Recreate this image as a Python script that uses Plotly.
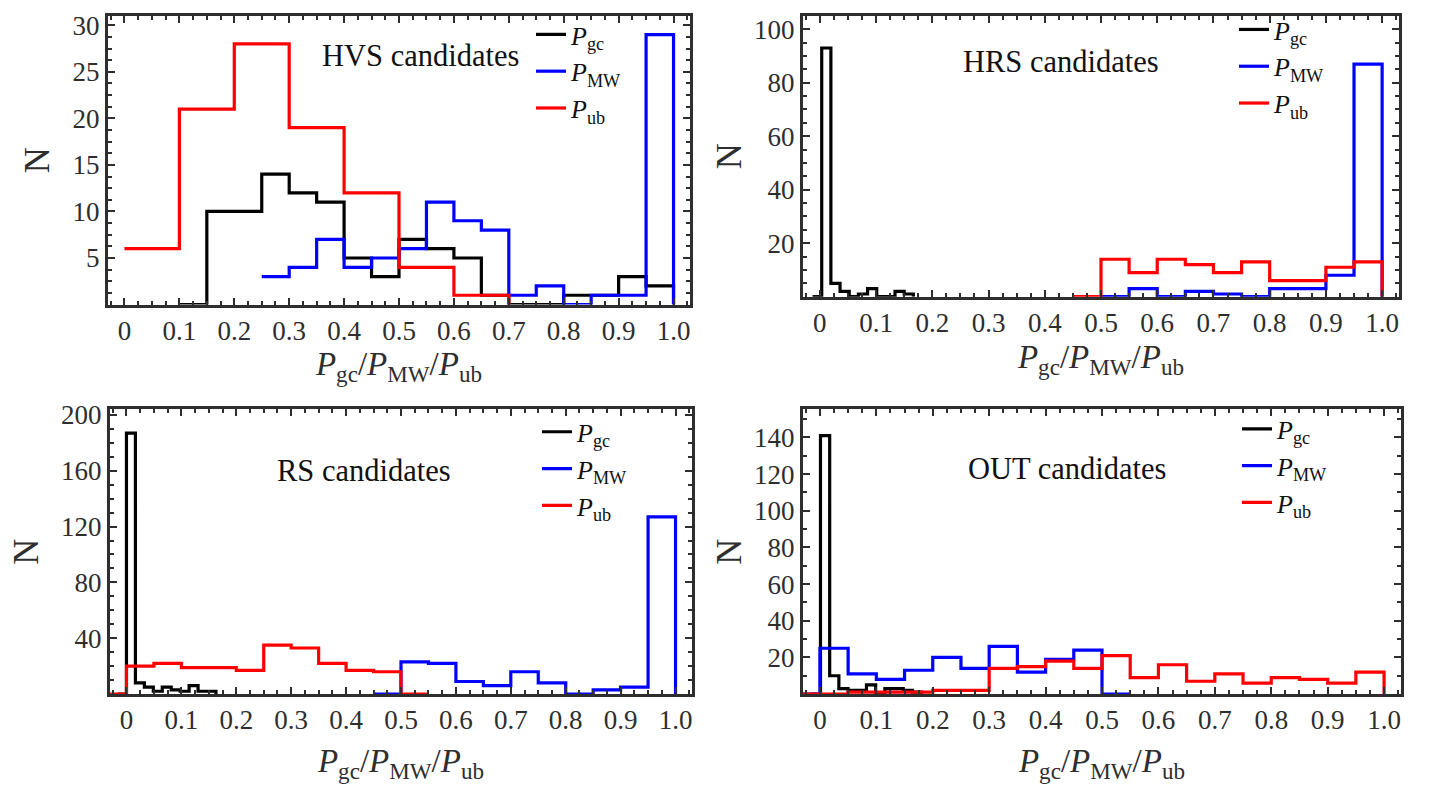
import plotly.graph_objects as go

# ---------------- data ----------------
# HVS candidates
hvs_gc_start, hvs_gc_width = 0.10, 0.05
hvs_gc_counts = [0, 10, 10, 14, 12, 11, 5, 3, 7, 6, 5, 1, 0, 0, 1, 1, 3, 2]
hvs_mw_start, hvs_mw_width = 0.25, 0.05
hvs_mw_counts = [3, 4, 7, 4, 5, 6, 11, 9, 8, 1, 2, 0, 1, 1, 29]
hvs_ub_start, hvs_ub_width = 0.0, 0.10
hvs_ub_counts = [6, 21, 28, 19, 12, 4, 1]

# HRS candidates
hrs_gc_start, hrs_gc_width = -0.013, 0.0163
hrs_gc_counts = [0, 93, 5, 2, 0, 1, 3, 0, 0, 2, 1]
hrs_mw_start, hrs_mw_width = 0.50, 0.05
hrs_mw_counts = [0, 3, 0, 2, 1, 0, 3, 3, 8, 87]
hrs_ub_start, hrs_ub_width = 0.45, 0.05
hrs_ub_counts = [0, 14, 9, 14, 12, 9, 13, 6, 6, 11, 13]

# RS candidates
rs_gc_start, rs_gc_width = -0.0163, 0.0163
rs_gc_counts = [0, 187, 8, 5, 2, 5, 3, 2, 6, 2, 2]
rs_mw_start, rs_mw_width = 0.45, 0.05
rs_mw_counts = [0, 23, 22, 9, 6, 16, 8, 0, 3, 5, 127]
rs_ub_start, rs_ub_width = -0.05, 0.05
rs_ub_counts = [0, 20, 22, 19, 19, 17, 35, 33, 22, 17, 16, 0]

# OUT candidates
out_gc_start, out_gc_width = -0.0153, 0.0163
out_gc_counts = [0, 141, 10, 3, 2, 2, 5, 0, 3, 3, 2, 1]
out_mw_start, out_mw_width = -0.05, 0.05
out_mw_counts = [0, 25, 11, 8, 13, 20, 14, 26, 12, 19, 24, 0]
out_ub_start, out_ub_width = -0.05, 0.05
out_ub_counts = [0, 0, 1, 1, 1, 2, 2, 14, 15, 18, 14, 21, 9, 16, 7, 11, 6, 9, 8, 6, 12]

panel_titles = ["HVS candidates", "HRS candidates", "RS candidates", "OUT candidates"]
x_tickvals = [0, 0.1, 0.2, 0.3, 0.4, 0.5, 0.6, 0.7, 0.8, 0.9, 1.0]
x_ticktext = ["0", "0.1", "0.2", "0.3", "0.4", "0.5", "0.6", "0.7", "0.8", "0.9", "1.0"]
y_tickvals = [[5, 10, 15, 20, 25, 30],
              [20, 40, 60, 80, 100],
              [40, 80, 120, 160, 200],
              [20, 40, 60, 80, 100, 120, 140]]
y_minor = [1.25, 5, 10, 10]
y_ranges = [[0, 31], [0, 105], [0, 204], [0, 155.3]]
series_names = ["<i>P</i><sub>gc</sub>", "<i>P</i><sub>MW</sub>", "<i>P</i><sub>ub</sub>"]
series_colors = ["#000000", "#0000ff", "#ff0000"]

panels = [
    [(hvs_gc_start, hvs_gc_width, hvs_gc_counts), (hvs_mw_start, hvs_mw_width, hvs_mw_counts), (hvs_ub_start, hvs_ub_width, hvs_ub_counts)],
    [(hrs_gc_start, hrs_gc_width, hrs_gc_counts), (hrs_mw_start, hrs_mw_width, hrs_mw_counts), (hrs_ub_start, hrs_ub_width, hrs_ub_counts)],
    [(rs_gc_start, rs_gc_width, rs_gc_counts), (rs_mw_start, rs_mw_width, rs_mw_counts), (rs_ub_start, rs_ub_width, rs_ub_counts)],
    [(out_gc_start, out_gc_width, out_gc_counts), (out_mw_start, out_mw_width, out_mw_counts), (out_ub_start, out_ub_width, out_ub_counts)],
]

# ---------------- layout geometry (pixels) ----------------
W, H = 1434, 785
boxes = [(108, 690, 7, 299), (803, 1399, 7, 291), (110, 692, 405, 693), (803, 1401, 405, 693)]
legend_pos = [(531, 2), (1234, -3), (537, 404), (1237, 401)]
title_pos = [(420, 48), (1061, 54), (364, 467), (1067, 465)]
xtitle_standoff = [0, 8, 15, 15]
ytitle_standoff = [12, 2, 12, 2]


def px_x(p):
    return p / W


def px_y(p):
    return 1 - p / H


def step_xy(start, width, counts):
    edges = [start + width * i for i in range(len(counts) + 1)]
    return edges, list(counts) + [0]


FONT = "Liberation Serif, Times New Roman, DejaVu Serif, serif"
AX = "#2e2e2e"

fig = go.Figure()
layout = dict(
    width=W, height=H, margin=dict(l=0, r=0, t=0, b=0),
    paper_bgcolor="white", plot_bgcolor="white",
    font=dict(family=FONT, color=AX, size=26),
)
annotations = []

for i, series in enumerate(panels):
    n = i + 1
    xa = "x" if n == 1 else f"x{n}"
    ya = "y" if n == 1 else f"y{n}"
    leg = "legend" if n == 1 else f"legend{n}"
    for (start, width, counts), name, color in zip(series, series_names, series_colors):
        xs, ys = step_xy(start, width, counts)
        fig.add_trace(go.Scatter(
            x=xs, y=ys, mode="lines", line=dict(color=color, width=3.2, shape="hv"),
            name=name, xaxis=xa, yaxis=ya, legend=leg, showlegend=True, hoverinfo="skip",
        ))
    l, r, t, b = boxes[i]
    axis_common = dict(
        showline=True, linewidth=3, linecolor=AX, mirror="ticks",
        ticks="inside", ticklen=7, tickwidth=2, tickcolor=AX,
        showgrid=False, zeroline=False,
        tickfont=dict(family=FONT, size=27, color=AX),
    )
    layout["xaxis" if n == 1 else f"xaxis{n}"] = dict(
        axis_common,
        domain=[px_x(l), px_x(r)], anchor=ya, range=[-0.03, 1.03],
        tickmode="array", tickvals=x_tickvals, ticktext=x_ticktext,
        minor=dict(dtick=0.025, tick0=0, ticks="inside", ticklen=4, tickwidth=1.5, tickcolor=AX),
        title=dict(text="<i>P</i><sub>gc</sub>/<i>P</i><sub>MW</sub>/<i>P</i><sub>ub</sub>",
                   font=dict(family=FONT, size=33, color=AX), standoff=xtitle_standoff[i]),
    )
    layout["yaxis" if n == 1 else f"yaxis{n}"] = dict(
        axis_common,
        domain=[px_y(b), px_y(t)], anchor=xa, range=y_ranges[i],
        tickmode="array", tickvals=y_tickvals[i],
        minor=dict(dtick=y_minor[i], tick0=0, ticks="inside", ticklen=4, tickwidth=1.5, tickcolor=AX),
        title=dict(text="N", font=dict(family=FONT, size=36, color=AX), standoff=ytitle_standoff[i]),
    )
    lx, ly = legend_pos[i]
    layout[leg] = dict(
        x=px_x(lx), y=px_y(ly), xanchor="left", yanchor="top",
        bgcolor="rgba(0,0,0,0)", borderwidth=0, tracegroupgap=0,
        font=dict(family=FONT, size=26, color="#111"), itemwidth=30,
    )
    tx, ty = title_pos[i]
    annotations.append(dict(
        text=panel_titles[i], x=px_x(tx), y=px_y(ty), xref="paper", yref="paper",
        xanchor="center", yanchor="middle", showarrow=False,
        font=dict(family=FONT, size=30.5, color="#111"),
    ))

layout["annotations"] = annotations
fig.update_layout(**layout)
fig.write_html("out.html")
